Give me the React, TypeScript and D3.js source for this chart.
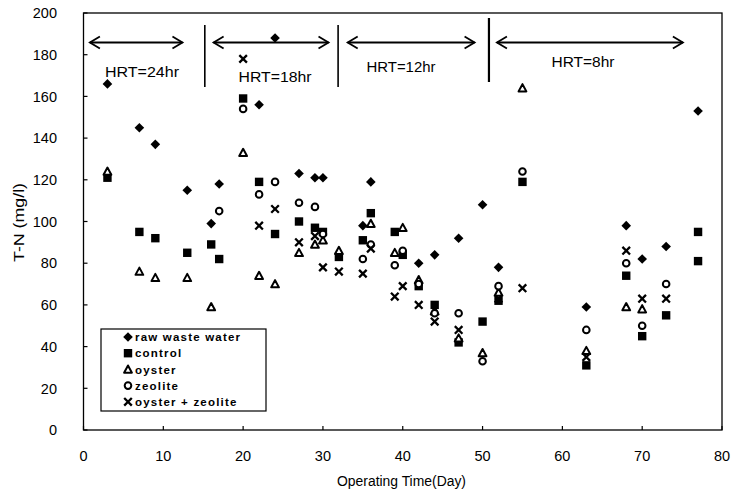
import React from "react";
import * as d3 from "d3";

const W = 734;
const H = 497;

const xTicks = [0, 10, 20, 30, 40, 50, 60, 70, 80];
const yTicks = [0, 20, 40, 60, 80, 100, 120, 140, 160, 180, 200];

const rawWaste: [number, number][] = [
  [3, 166], [7, 145], [9, 137], [13, 115], [16, 99], [17, 118], [22, 156], [24, 188],
  [27, 123], [29, 121], [30, 121], [35, 98], [36, 119], [42, 80], [44, 84], [47, 92],
  [50, 108], [52, 78], [63, 59], [68, 98], [70, 82], [73, 88], [77, 153],
];
const control: [number, number][] = [
  [3, 121], [7, 95], [9, 92], [13, 85], [16, 89], [17, 82], [20, 159], [22, 119],
  [24, 94], [27, 100], [29, 97], [30, 95], [32, 83], [35, 91], [36, 104], [39, 95],
  [40, 84], [42, 69], [44, 60], [47, 42], [50, 52], [52, 62], [55, 119], [63, 31],
  [68, 74], [70, 45], [73, 55], [77, 95], [77, 81],
];
const oyster: [number, number][] = [
  [3, 124], [7, 76], [9, 73], [13, 73], [16, 59], [20, 133], [22, 74], [24, 70],
  [27, 85], [29, 89], [30, 91], [32, 86], [36, 99], [39, 85], [40, 97], [42, 72],
  [44, 57], [47, 44], [50, 37], [52, 66], [55, 164], [63, 38], [68, 59], [70, 58],
];
const zeolite: [number, number][] = [
  [17, 105], [20, 154], [22, 113], [24, 119], [27, 109], [29, 107], [30, 94], [35, 82],
  [36, 89], [39, 79], [40, 86], [42, 70], [44, 56], [47, 56], [50, 33], [52, 69],
  [55, 124], [63, 48], [68, 80], [70, 50], [73, 70],
];
const oysterZeolite: [number, number][] = [
  [20, 178], [22, 98], [24, 106], [27, 90], [29, 93], [30, 78], [32, 76], [35, 75],
  [36, 87], [39, 64], [40, 69], [42, 60], [44, 52], [47, 48], [52, 63], [55, 68],
  [63, 35], [68, 86], [70, 63], [73, 63],
];

const legendLabels = ["raw waste water", "control", "oyster", "zeolite", "oyster + zeolite"];

const hrtLabels = ["HRT=24hr", "HRT=18hr", "HRT=12hr", "HRT=8hr"];
const hrtArrowStart = [0.8, 16.3, 33.1, 51.8];
const hrtArrowEnd = [12.4, 30.7, 49.0, 75.1];
const hrtDividers = [15.2, 31.9, 50.8];

type Kind = "diamond" | "square" | "triangle" | "circle" | "cross";

function Marker({ kind, x, y }: { kind: Kind; x: number; y: number }) {
  if (kind === "diamond") {
    const s = 4.8;
    return <path d={`M${x},${y - s}L${x + s},${y}L${x},${y + s}L${x - s},${y}Z`} fill="#000" />;
  }
  if (kind === "square") {
    const s = 4.2;
    return <rect x={x - s} y={y - s} width={2 * s} height={2 * s} fill="#000" />;
  }
  if (kind === "triangle") {
    const s = 3.9;
    return (
      <path
        d={`M${x},${y - s}L${x + s},${y + s * 0.85}L${x - s},${y + s * 0.85}Z`}
        fill="#fff"
        stroke="#000"
        strokeWidth={2}
        strokeLinejoin="round"
      />
    );
  }
  if (kind === "circle") {
    return <circle cx={x} cy={y} r={3.3} fill="#fff" stroke="#000" strokeWidth={2} />;
  }
  const s = 3.8;
  return (
    <path
      d={`M${x - s},${y - s}L${x + s},${y + s}M${x + s},${y - s}L${x - s},${y + s}`}
      stroke="#000"
      strokeWidth={2.3}
    />
  );
}

export default function App() {
  const x = d3.scaleLinear().domain([0, 80]).range([83.5, 722]);
  const y = d3.scaleLinear().domain([0, 200]).range([430, 13]);

  const series: { data: [number, number][]; kind: Kind }[] = [
    { data: rawWaste, kind: "diamond" },
    { data: control, kind: "square" },
    { data: oyster, kind: "triangle" },
    { data: zeolite, kind: "circle" },
    { data: oysterZeolite, kind: "cross" },
  ];

  const font = "'Liberation Sans', Arial, sans-serif";
  const arrowY = 42.5;

  return (
    <svg
      width={W}
      height={H}
      style={{ position: "absolute", left: 0, top: 0, background: "#fff" }}
      fontFamily={font}
    >
      <rect x={0} y={0} width={W} height={H} fill="#fff" />
      <rect
        x={x(0)}
        y={y(200)}
        width={x(80) - x(0)}
        height={y(0) - y(200)}
        fill="none"
        stroke="#000"
        strokeWidth={1.3}
      />
      {yTicks.map((t) => (
        <g key={"y" + t}>
          <line x1={x(0)} x2={x(0) + 4} y1={y(t)} y2={y(t)} stroke="#000" strokeWidth={1.2} />
          <text x={57} y={y(t)} dy="0.36em" textAnchor="end" fontSize={14.5} fill="#000">
            {t}
          </text>
        </g>
      ))}
      {xTicks.map((t) => (
        <g key={"x" + t}>
          <line x1={x(t)} x2={x(t)} y1={y(0)} y2={y(0) - 4} stroke="#000" strokeWidth={1.2} />
          <text x={x(t)} y={456} dy="0.36em" textAnchor="middle" fontSize={14.5} fill="#000">
            {t}
          </text>
        </g>
      ))}
      <text
        x={337}
        y={481}
        dy="0.36em"
        fontSize={14}
        fill="#000"
        textLength={129}
        lengthAdjust="spacingAndGlyphs"
      >
        Operating Time(Day)
      </text>
      <text
        transform="translate(19,262) rotate(-90)"
        dy="0.36em"
        fontSize={14.5}
        fill="#000"
        textLength={79}
        lengthAdjust="spacingAndGlyphs"
      >
        T-N (mg/l)
      </text>

      {hrtDividers.map((d, i) => (
        <line
          key={"div" + i}
          x1={x(d)}
          x2={x(d)}
          y1={i === 2 ? 18 : 25}
          y2={i === 2 ? 82 : 87}
          stroke="#000"
          strokeWidth={i === 2 ? 2.2 : 1.6}
        />
      ))}
      {hrtLabels.map((lab, i) => {
        const x1 = x(hrtArrowStart[i]);
        const x2 = x(hrtArrowEnd[i]);
        const labelY = [72, 77, 67, 62][i];
        const labelX = [142, 275, 401, 583][i];
        const labelW = [74, 73, 69, 63][i];
        return (
          <g key={"hrt" + i}>
            <line x1={x1} x2={x2} y1={arrowY} y2={arrowY} stroke="#000" strokeWidth={1.8} />
            <path
              d={`M${x1 + 10},${arrowY - 6}L${x1},${arrowY}L${x1 + 10},${arrowY + 6}`}
              fill="none"
              stroke="#000"
              strokeWidth={1.8}
            />
            <path
              d={`M${x2 - 10},${arrowY - 6}L${x2},${arrowY}L${x2 - 10},${arrowY + 6}`}
              fill="none"
              stroke="#000"
              strokeWidth={1.8}
            />
            <text
              x={labelX - labelW / 2}
              y={labelY}
              dy="0.36em"
              fontSize={14}
              fill="#000"
              textLength={labelW}
              lengthAdjust="spacingAndGlyphs"
            >
              {lab}
            </text>
          </g>
        );
      })}

      {series.map((s, si) => (
        <g key={"s" + si}>
          {s.data.map((p, pi) => (
            <Marker key={pi} kind={s.kind} x={x(p[0])} y={y(p[1])} />
          ))}
        </g>
      ))}

      <rect x={101} y={329} width={165} height={82} fill="#fff" stroke="#000" strokeWidth={1.2} />
      {legendLabels.map((lab, i) => {
        const ly = 337 + i * 16.2;
        return (
          <g key={"lg" + i}>
            <Marker kind={series[i].kind} x={128} y={ly} />
            <text
              x={135}
              y={ly}
              dy="0.36em"
              fontSize={11.5}
              fontWeight="bold"
              letterSpacing={1.2}
              fill="#000"
            >
              {lab}
            </text>
          </g>
        );
      })}
    </svg>
  );
}
